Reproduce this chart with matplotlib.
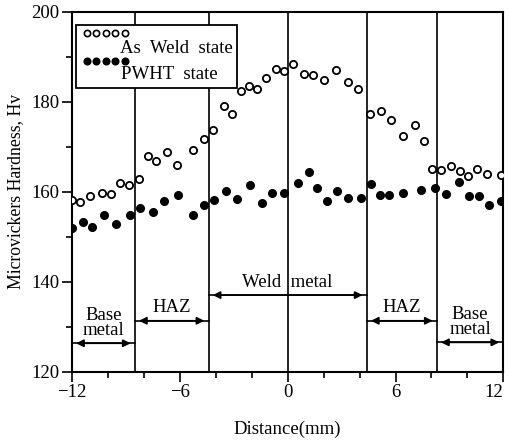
import numpy as np
import matplotlib
matplotlib.use("Agg")
import matplotlib.pyplot as plt
from matplotlib.ticker import MultipleLocator

plt.rcParams['font.family'] = ['Liberation Serif', 'DejaVu Serif']

# hardness profile, as welded
aw_x = [-12.0, -11.54, -10.98, -10.33, -9.83, -9.32, -8.80, -8.26, -7.74, -7.31,
        -6.72, -6.16, -5.27, -4.68, -4.16, -3.53, -3.07, -2.60, -2.14, -1.71,
        -1.21, -0.64, -0.23, 0.32, 0.92, 1.43, 2.03, 2.70, 3.33, 3.94,
        4.59, 5.18, 5.74, 6.44, 7.11, 7.59, 8.02, 8.54, 9.08, 9.56,
        10.02, 10.52, 11.11, 11.86]
aw_hv = [158.2, 157.7, 159.1, 159.7, 159.5, 161.8, 161.4, 162.9, 167.8, 166.7,
         168.7, 166.0, 169.3, 171.7, 173.6, 179.1, 177.3, 182.3, 183.4, 182.7,
         185.3, 187.3, 186.7, 188.4, 186.2, 185.8, 184.7, 187.1, 184.3, 182.9,
         177.3, 177.9, 175.8, 172.4, 174.9, 171.2, 165.1, 164.7, 165.6, 164.5,
         163.4, 165.1, 163.8, 163.6]

# hardness profile after PWHT
pw_x = [-12.0, -11.39, -10.87, -10.24, -9.54, -8.76, -8.24, -7.50, -6.85, -6.11,
        -5.27, -4.64, -4.07, -3.44, -2.79, -2.09, -1.42, -0.85, -0.19, 0.55,
        1.20, 1.62, 2.21, 2.77, 3.38, 4.09, 4.62, 5.11, 5.66, 6.41,
        7.43, 8.17, 8.82, 9.54, 10.11, 10.67, 11.21, 11.86]
pw_hv = [151.8, 153.3, 152.2, 154.9, 152.7, 154.7, 156.4, 155.5, 157.9, 159.2,
         154.8, 157.0, 158.1, 160.2, 158.4, 161.4, 157.5, 159.6, 159.6, 161.9,
         164.4, 160.7, 158.0, 160.2, 158.6, 158.6, 161.6, 159.2, 159.2, 159.7,
         160.3, 160.8, 159.5, 162.2, 159.0, 159.1, 157.1, 157.9]

# zone boundaries (mm) and labels
bounds = [-8.5, -4.4, 0.0, 4.4, 8.3]
zones = [(-12, -8.5, 'Base\nmetal', 126.3), (-8.5, -4.4, 'HAZ', 131.3),
         (-4.4, 4.4, 'Weld  metal', 137.0), (4.4, 8.3, 'HAZ', 131.3),
         (8.3, 12, 'Base\nmetal', 126.5)]

fs = 13.5

fig = plt.figure(figsize=(5.1, 4.44), dpi=100)
ax = fig.add_axes([0.141, 0.163, 0.846, 0.811])

for b in bounds:
    ax.axvline(b, color='black', lw=1.2, zorder=1)

ax.plot(aw_x, aw_hv, 'o', ls='none', mfc='white', mec='black', mew=1.3, ms=5.2, zorder=3)
ax.plot(pw_x, pw_hv, 'o', ls='none', color='black', ms=5.5, zorder=3)

for x0, x1, name, ya in zones:
    ax.plot([x0, x1], [ya, ya], color='black', lw=1.2, zorder=2)
    ax.annotate('', xy=(x0, ya), xytext=(x1, ya),
                arrowprops=dict(arrowstyle='<|-|>', color='black', lw=1.2,
                                mutation_scale=11, shrinkA=3, shrinkB=3))
    if '\n' in name:
        ax.text((x0 + x1) / 2, ya + 0.9, name, ha='center', va='bottom',
                fontsize=fs, linespacing=0.9)
    else:
        ax.text((x0 + x1) / 2, ya + 1.0, name, ha='center', va='bottom', fontsize=fs)

# legend box drawn by hand
ax.add_patch(plt.Rectangle((0.009, 0.788), 0.373, 0.175, transform=ax.transAxes,
                           fill=True, fc='white', ec='black', lw=1.3, zorder=4))
lx = np.linspace(0.034, 0.123, 5)
ax.plot(lx, [0.941] * 5, 'o', transform=ax.transAxes, mfc='white', mec='black',
        mew=1.2, ms=4.5, zorder=5, clip_on=False)
ax.plot(lx, [0.863] * 5, 'o', transform=ax.transAxes, color='black', ms=4.8,
        zorder=5, clip_on=False)
ax.text(0.111, 0.897, 'As  Weld  state', transform=ax.transAxes, va='center',
        fontsize=fs, zorder=5)
ax.text(0.113, 0.826, 'PWHT  state', transform=ax.transAxes, va='center',
        fontsize=fs, zorder=5)

ax.set_xlim(-12, 12)
ax.set_ylim(120, 200)
ax.set_xticks([-12, -6, 0, 6, 12])
ax.set_xticklabels(['\u221212', '\u22126', '0', '6', '12'])
ax.get_xticklabels()[-1].set_horizontalalignment('right')
ax.xaxis.set_minor_locator(MultipleLocator(2))
ax.yaxis.set_major_locator(MultipleLocator(20))
ax.yaxis.set_minor_locator(MultipleLocator(10))
ax.tick_params(which='both', direction='out', top=False, right=False, width=1.2,
               labelsize=fs)
ax.tick_params(which='major', length=7, pad=2)
ax.tick_params(which='minor', length=4)
for s in ax.spines.values():
    s.set_linewidth(1.5)

ax.set_xlabel('Distance(mm)', fontsize=fs, labelpad=14)
ax.set_ylabel('Microvickers Hardness, Hv', fontsize=12.8, labelpad=5)

fig.savefig('out.png', dpi=100)
